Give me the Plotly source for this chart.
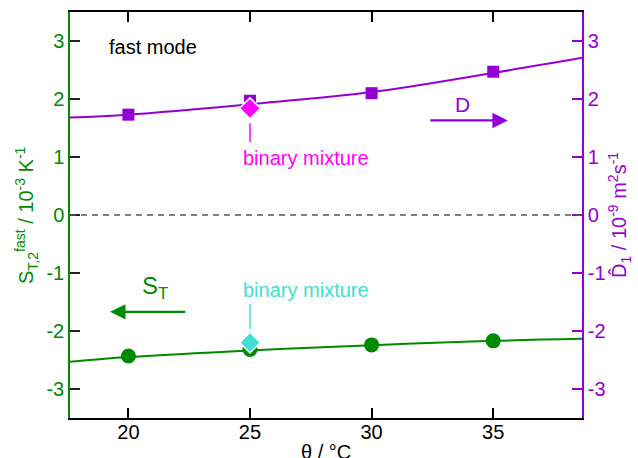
import plotly.graph_objects as go

# ---- data ----
temps = [20, 25, 30, 35]
st_fast = [-2.43, -2.32, -2.24, -2.17]
d_fast = [1.73, 1.97, 2.10, 2.47]

binary_temp = [25]
st_binary = [-2.20]
d_binary = [1.84]

fit_temp = [17.6, 20, 25, 30, 35, 38.65]
st_fit = [-2.53, -2.45, -2.335, -2.245, -2.17, -2.135]
d_fit = [1.68, 1.73, 1.91, 2.12, 2.45, 2.71]

xtick_vals = [20, 25, 30, 35]
xtick_text = ["20", "25", "30", "35"]
ytick_vals = [-3, -2, -1, 0, 1, 2, 3]
ytick_text = ["-3", "-2", "-1", "0", "1", "2", "3"]

GREEN = "#008a00"
PURPLE = "#9400d3"
MAGENTA = "#ff00ff"
CYAN = "#40e0d0"
FONT = "Liberation Sans, Arial, Helvetica, sans-serif"

fig = go.Figure()

# fit lines
fig.add_trace(go.Scatter(x=fit_temp, y=d_fit, mode="lines", yaxis="y2",
                         line=dict(color=PURPLE, width=2, shape="spline"), showlegend=False))
fig.add_trace(go.Scatter(x=fit_temp, y=st_fit, mode="lines",
                         line=dict(color=GREEN, width=2, shape="spline"), showlegend=False))
# data points
fig.add_trace(go.Scatter(x=temps, y=d_fast, mode="markers", yaxis="y2",
                         marker=dict(symbol="square", size=12, color=PURPLE), showlegend=False))
fig.add_trace(go.Scatter(x=temps, y=st_fast, mode="markers",
                         marker=dict(symbol="circle", size=15, color=GREEN), showlegend=False))
fig.add_trace(go.Scatter(x=binary_temp, y=d_binary, mode="markers", yaxis="y2",
                         marker=dict(symbol="diamond", size=16, color=MAGENTA,
                                     line=dict(color="white", width=1.5)), showlegend=False))
fig.add_trace(go.Scatter(x=binary_temp, y=st_binary, mode="markers",
                         marker=dict(symbol="diamond", size=16, color=CYAN,
                                     line=dict(color="white", width=1.5)), showlegend=False))

shapes = [
    dict(type="line", xref="paper", x0=0, x1=1, yref="y", y0=0, y1=0,
         line=dict(color="#555555", width=1.5, dash="6px,5px")),
    # marker pointer lines for the binary mixture labels
    dict(type="line", xref="x", yref="y2", x0=binary_temp[0], x1=binary_temp[0],
         y0=d_binary[0] - 0.26, y1=d_binary[0] - 0.58, line=dict(color=MAGENTA, width=1.5)),
    dict(type="line", xref="x", yref="y", x0=binary_temp[0], x1=binary_temp[0],
         y0=st_binary[0] + 0.24, y1=st_binary[0] + 0.66, line=dict(color=CYAN, width=1.5)),
]

ann = [
    dict(text="fast mode", x=19.12, y=2.9, xref="x", yref="y", xanchor="left", yanchor="middle",
         showarrow=False, font=dict(size=20, color="black", family=FONT)),
    dict(text="binary mixture", x=27.29, y=0.98, xref="x", yref="y", xanchor="center",
         yanchor="middle", showarrow=False, font=dict(size=20, color=MAGENTA, family=FONT)),
    dict(text="binary mixture", x=27.29, y=-1.30, xref="x", yref="y", xanchor="center",
         yanchor="middle", showarrow=False, font=dict(size=20, color=CYAN, family=FONT)),
    dict(text="D", x=33.75, y=1.91, xref="x", yref="y", showarrow=False,
         font=dict(size=21, color=PURPLE, family=FONT)),
    dict(text="S<sub>T</sub>", x=21.1, y=-1.25, xref="x", yref="y", showarrow=False,
         font=dict(size=24, color=GREEN, family=FONT)),
    # arrows
    dict(text="", x=35.6, y=1.63, ax=32.35, ay=1.63, xref="x", yref="y", axref="x", ayref="y",
         showarrow=True, arrowhead=2, arrowsize=1.4, arrowwidth=2.2, arrowcolor=PURPLE),
    dict(text="", x=19.25, y=-1.67, ax=22.4, ay=-1.67, xref="x", yref="y", axref="x", ayref="y",
         showarrow=True, arrowhead=2, arrowsize=1.4, arrowwidth=2.2, arrowcolor=GREEN),
    # axis titles
    dict(text="S<sub>T,2</sub><sup>fast</sup> / 10<sup>-3</sup> K<sup>-1</sup>",
         x=0, y=0.5, xref="paper", yref="paper", xanchor="center", yanchor="middle",
         xshift=-44, textangle=-90, showarrow=False, font=dict(size=20, color=GREEN, family=FONT)),
    dict(text="D\u0302<sub>1</sub> / 10<sup>-9</sup> m<sup>2</sup>s<sup>-1</sup>",
         x=1, y=0.5, xref="paper", yref="paper", xanchor="center", yanchor="middle",
         xshift=37, textangle=-90, showarrow=False, font=dict(size=20, color=PURPLE, family=FONT)),
    dict(text="\u03b8 / \u00b0C", x=0.5, y=0, xref="paper", yref="paper", xanchor="center",
         yanchor="top", yshift=-21, showarrow=False, font=dict(size=20, color="black", family=FONT)),
]

fig.update_layout(
    width=638, height=458,
    margin=dict(l=70, r=56, t=10, b=40),
    paper_bgcolor="white", plot_bgcolor="white",
    font=dict(family=FONT, size=20),
    shapes=shapes, annotations=ann,
    xaxis=dict(range=[17.6, 38.65], tickvals=xtick_vals, ticktext=xtick_text,
               ticks="inside", ticklen=10, tickwidth=1.5, tickcolor="black",
               ticklabelstandoff=-5,
               showline=True, linecolor="black", linewidth=1.5, mirror="ticks",
               showgrid=False, zeroline=False, tickfont=dict(size=20, color="black")),
    yaxis=dict(range=[-3.5, 3.5], tickvals=ytick_vals, ticktext=ytick_text,
               ticks="inside", ticklen=10, tickwidth=1.5, tickcolor="#222222",
               showline=True, linecolor=GREEN, linewidth=1.5,
               showgrid=False, zeroline=False, tickfont=dict(size=20, color=GREEN)),
    yaxis2=dict(range=[-3.5, 3.5], tickvals=ytick_vals, ticktext=ytick_text, overlaying="y",
                side="right", ticks="inside", ticklen=10, tickwidth=1.5, tickcolor=PURPLE,
                showline=True, linecolor=PURPLE, linewidth=1.5,
                showgrid=False, zeroline=False, tickfont=dict(size=20, color=PURPLE)),
)

fig.write_html("out.html")
